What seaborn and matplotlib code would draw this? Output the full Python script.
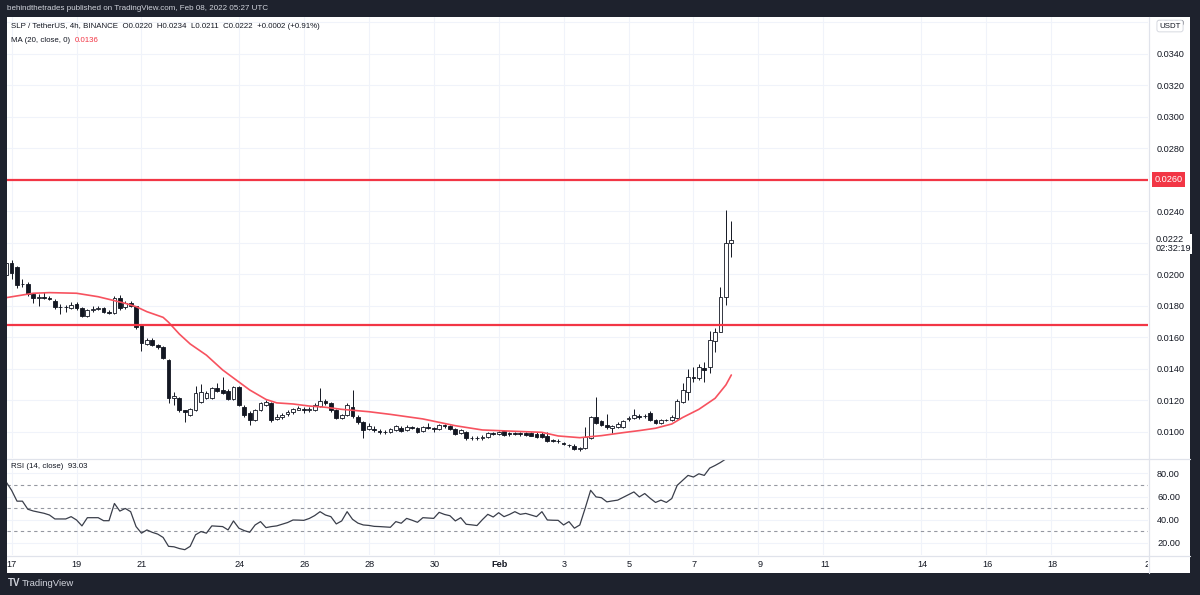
import numpy as np
import pandas as pd
import seaborn as sns
import matplotlib.pyplot as plt
from matplotlib.lines import Line2D
from matplotlib.patches import Rectangle
from matplotlib.ticker import FuncFormatter

# --- DATOS: velas 4h SLP/USDT, primera vela 2022-01-16 20:00 (precios en 1e-4 USDT) ---
FIRST_CANDLE = pd.Timestamp('2022-01-16 20:00')

opens = [
    199.5, 207.0, 204.4, 193.5, 194.0, 187.4, 185.0, 185.5, 185.0, 182.8,
    179.0, 179.2, 178.8, 181.0, 178.5, 173.5, 177.5, 178.0, 178.5, 176.0,
    175.5, 185.0, 179.0, 181.5, 179.5, 167.8, 155.8, 158.2, 155.1, 153.8,
    145.5, 121.4, 121.4, 113.5, 110.6, 113.8, 118.9, 121.4, 121.4, 127.7,
    126.5, 125.8, 120.8, 128.4, 115.7, 111.9, 107.4, 113.8, 117.0, 118.2,
    108.0, 109.3, 111.0, 112.5, 114.0, 114.5, 113.8, 113.8, 116.3, 119.5,
    118.2, 113.8, 108.7, 110.6, 115.7, 109.3, 106.2, 101.5, 102.0, 100.5,
    99.8, 99.8, 101.1, 102.4, 101.1, 102.7, 102.4, 100.4, 102.8, 102.4,
    101.7, 104.3, 103.6, 101.7, 99.2, 99.8, 96.0, 96.3, 96.0, 96.6,
    99.2, 98.5, 100.4, 99.2, 99.0, 99.0, 99.0, 99.0, 98.5, 98.5,
    97.3, 94.7, 94.1, 93.0, 91.8, 90.9, 89.3, 89.6, 96.0, 109.3,
    106.8, 104.3, 102.4, 103.0, 103.0, 108.0, 108.7, 109.8, 109.8, 111.9,
    107.4, 105.5, 107.4, 107.2, 108.7, 118.9, 125.2, 134.7, 134.1, 140.4,
    141.1, 157.6, 163.3, 185.5, 220.0]
highs = [
    208.3, 209.0, 205.0, 197.0, 195.0, 188.0, 187.6, 188.5, 186.0, 184.0,
    181.0, 180.5, 182.5, 182.5, 179.0, 178.0, 180.0, 180.0, 179.0, 177.0,
    186.0, 187.0, 183.0, 183.0, 180.0, 168.5, 159.5, 159.5, 155.5, 154.5,
    146.0, 125.0, 122.0, 114.0, 115.0, 129.0, 130.0, 126.0, 128.5, 131.0,
    135.0, 127.0, 129.0, 129.0, 117.0, 113.0, 114.5, 119.0, 120.0, 119.0,
    111.0, 112.0, 114.0, 115.0, 116.5, 115.5, 115.5, 118.0, 127.7, 121.0,
    119.0, 114.5, 111.5, 118.0, 126.5, 110.5, 107.0, 105.5, 103.5, 101.5,
    101.0, 102.5, 104.5, 103.5, 104.0, 103.5, 103.0, 103.5, 105.5, 103.0,
    105.0, 105.0, 104.0, 102.5, 102.0, 100.5, 97.5, 97.5, 98.0, 100.0,
    100.0, 100.5, 101.0, 100.0, 99.8, 99.5, 99.5, 99.5, 100.0, 99.5,
    100.0, 95.5, 95.5, 93.5, 92.5, 92.5, 90.5, 103.0, 110.0, 122.0,
    107.5, 111.0, 104.5, 106.0, 107.5, 110.0, 114.5, 111.0, 111.5, 113.0,
    108.0, 108.0, 108.0, 110.5, 120.5, 131.0, 139.5, 141.0, 143.0, 144.5,
    164.0, 166.0, 192.0, 240.5, 234.0]
lows = [
    197.6, 197.0, 191.0, 192.0, 186.0, 182.0, 180.0, 184.0, 183.5, 178.0,
    175.0, 176.0, 178.0, 177.5, 173.0, 173.0, 176.0, 177.0, 175.5, 174.5,
    175.0, 177.5, 178.0, 179.0, 165.5, 151.0, 155.0, 154.5, 152.5, 146.0,
    118.5, 117.0, 112.5, 106.0, 110.0, 113.0, 118.0, 121.0, 121.0, 125.0,
    124.0, 120.0, 120.0, 116.0, 109.5, 104.3, 106.5, 113.0, 116.5, 106.0,
    107.5, 108.0, 110.0, 111.5, 113.5, 112.0, 112.5, 113.0, 115.5, 117.0,
    112.5, 108.0, 108.0, 110.0, 109.0, 105.0, 96.0, 101.0, 99.5, 98.5,
    98.5, 99.0, 100.5, 99.5, 100.5, 101.5, 99.0, 100.0, 101.5, 100.0,
    101.0, 102.5, 101.0, 98.0, 98.5, 95.0, 95.0, 95.0, 95.0, 96.0,
    98.0, 98.0, 97.5, 97.5, 98.0, 97.5, 97.5, 97.0, 96.0, 96.0,
    93.5, 93.5, 93.0, 91.5, 90.5, 88.3, 87.5, 89.0, 95.5, 105.0,
    103.5, 101.5, 99.0, 102.5, 102.5, 107.0, 108.0, 108.0, 108.5, 106.5,
    105.0, 105.0, 106.5, 106.5, 108.0, 118.0, 120.0, 131.5, 133.0, 131.5,
    137.0, 150.8, 163.0, 180.5, 211.0]
closes = [
    207.1, 200.6, 193.2, 194.0, 187.4, 185.0, 185.5, 185.0, 184.5, 179.0,
    179.2, 179.0, 180.5, 178.5, 173.5, 177.2, 178.0, 178.5, 176.0, 175.5,
    184.9, 178.5, 181.5, 179.8, 166.5, 156.3, 158.2, 155.1, 153.8, 146.8,
    121.4, 122.5, 113.8, 112.5, 114.4, 124.6, 125.2, 124.6, 127.7, 125.8,
    124.6, 120.8, 128.4, 117.0, 110.6, 107.4, 113.8, 118.2, 118.9, 107.4,
    109.3, 110.6, 112.5, 114.4, 115.0, 113.8, 114.2, 117.0, 119.5, 118.2,
    113.8, 108.7, 110.6, 117.0, 110.0, 106.2, 101.1, 103.6, 101.1, 99.8,
    100.0, 101.8, 103.6, 100.4, 103.0, 102.4, 99.8, 103.0, 102.4, 101.7,
    104.3, 103.6, 101.7, 98.5, 101.1, 96.0, 96.3, 96.0, 96.5, 99.2,
    98.5, 99.8, 97.9, 98.5, 98.5, 98.3, 97.9, 97.3, 96.6, 96.6,
    94.1, 94.4, 94.4, 92.2, 91.6, 89.0, 89.9, 96.6, 109.3, 105.5,
    104.3, 103.0, 103.6, 104.9, 106.8, 108.7, 110.6, 109.3, 110.0, 107.4,
    105.5, 107.4, 107.2, 109.3, 119.5, 126.5, 134.7, 134.1, 141.0, 139.2,
    158.2, 163.3, 185.5, 219.8, 222.0]

# MA(20) (índice de vela, valor en 1e-4)
ma_index = [0, 5, 8, 13, 17, 20, 22, 24, 26, 29, 30, 32, 34, 37, 40, 42, 45, 48, 50, 53,
            56, 59, 62, 67, 71, 77, 83, 88, 93, 99, 102, 106, 110, 114, 117, 120, 123,
            125, 128, 131, 133, 134]
ma_values = [185.1, 187.9, 188.3, 187.9, 185.7, 183.2, 181.5, 179.4, 176.2, 172.6, 169.5,
             162.0, 155.7, 148.6, 139.2, 134.1, 126.5, 120.5, 118.3, 117.6, 116.3, 115.5,
             114.2, 112.7, 111.0, 108.1, 103.8, 101.1, 100.4, 99.6, 97.3, 96.2, 97.5,
             99.4, 100.7, 102.2, 104.9, 109.0, 114.2, 121.2, 129.7, 136.0]

rsi_values = [
    72.6, 65.4, 56.0, 56.0, 49.0, 47.5, 46.5, 45.5, 44.0, 40.6,
    40.6, 40.6, 42.6, 39.7, 34.6, 41.7, 41.7, 41.7, 39.1, 39.1,
    54.0, 47.4, 49.7, 46.9, 34.0, 28.3, 31.1, 29.0, 27.5, 24.6,
    16.9, 16.5, 15.0, 14.0, 16.9, 26.9, 29.7, 28.3, 34.6, 34.3,
    34.0, 31.1, 38.9, 32.6, 30.5, 29.1, 35.4, 38.3, 33.1, 34.0,
    34.6, 36.0, 37.5, 39.7, 39.6, 39.4, 41.0, 43.5, 46.9, 44.0,
    42.6, 36.3, 38.9, 46.9, 40.3, 37.0, 35.4, 35.0, 34.2, 34.0,
    33.7, 33.4, 38.3, 36.9, 41.1, 39.5, 37.7, 41.7, 41.4, 41.1,
    46.3, 44.5, 43.4, 38.9, 41.7, 36.0, 35.5, 34.9, 40.0, 44.6,
    42.3, 46.0, 42.6, 44.5, 46.9, 44.6, 45.4, 44.0, 42.6, 46.9,
    39.7, 39.5, 39.4, 35.4, 38.3, 32.6, 35.4, 50.0, 65.4, 59.7,
    59.0, 55.4, 56.2, 56.9, 59.3, 61.7, 64.0, 59.7, 62.6, 58.5,
    54.9, 56.9, 54.9, 58.3, 69.7, 74.0, 78.3, 76.9, 79.7, 78.3,
    84.6, 86.9, 89.5, 92.6, 93.03]

tick_dates = ['2022-01-17', '2022-01-19', '2022-01-21', '2022-01-24', '2022-01-26',
              '2022-01-28', '2022-01-30', '2022-02-01', '2022-02-03', '2022-02-05',
              '2022-02-07', '2022-02-09', '2022-02-11', '2022-02-14', '2022-02-16',
              '2022-02-18', '2022-02-21']
tick_labels = ['17', '19', '21', '24', '26', '28', '30', 'Feb', '3', '5', '7', '9',
               '11', '14', '16', '18', '21']
price_ticks = [0.0100, 0.0120, 0.0140, 0.0160, 0.0180, 0.0200, 0.0220, 0.0240,
               0.0260, 0.0280, 0.0300, 0.0320, 0.0340, 0.0360]
covered_ticks = [0.0220, 0.0260]   # tapadas por las etiquetas de precio
rsi_ticks = [20, 40, 60, 80]
rsi_bands = [30, 50, 70]
level_lines = [0.0260, 0.0168]

# --- ESTILO ---
W, H = 1200, 595
BG_DARK = '#1e222d'
TXT = '#131722'
GRID = '#f0f3fa'
SEP = '#e0e3eb'
RED = '#f23645'
MA_RED = '#f7525f'
FS = 6.6
FS_LEG = 5.7

sns.set_theme(style='white')
plt.rcParams['font.family'] = ['Liberation Sans', 'DejaVu Sans']


def fx(px):
    return px / W


def fy(py):
    return 1 - py / H


def price_fmt(v, p):
    if any(abs(v - c) < 1e-7 for c in covered_ticks):
        return ''
    return f'{v:.4f}'


df = pd.DataFrame({'open': opens, 'high': highs, 'low': lows, 'close': closes}) / 1e4
df['idx'] = np.arange(len(df))
ma = pd.DataFrame({'idx': ma_index, 'ma': np.array(ma_values) / 1e4})
rsi = pd.DataFrame({'idx': np.arange(len(rsi_values)), 'rsi': rsi_values})
tick_pos = [(pd.Timestamp(d) - FIRST_CANDLE) / pd.Timedelta(hours=4) for d in tick_dates]

XMIN, XMAX = 0.15, 210.65

fig = plt.figure(figsize=(W / 100, H / 100), dpi=100, facecolor=BG_DARK)
fig.add_artist(Rectangle((fx(7), fy(573)), fx(1190) - fx(7), fy(17) - fy(573),
                         transform=fig.transFigure, fc='white', ec='none', zorder=-1))

ax = fig.add_axes([fx(7), fy(458), fx(1148) - fx(7), fy(17) - fy(458)])
ax_r = fig.add_axes([fx(7), fy(555), fx(1148) - fx(7), fy(459) - fy(555)])
ax_t = fig.add_axes([fx(7), fy(573), fx(1148) - fx(7), fy(556) - fy(573)])

# --- Panel de precio ---
ax.vlines(df['idx'], df['low'], df['high'], color=TXT, lw=0.7, zorder=2)
up = df['close'] >= df['open']
body_bottom = df[['open', 'close']].min(axis=1)
body_h = (df['close'] - df['open']).abs().clip(lower=0.00002)
ax.bar(df['idx'], body_h, bottom=body_bottom, width=0.7,
       color=np.where(up, 'white', TXT), edgecolor=TXT, linewidth=0.6, zorder=3)
sns.lineplot(data=ma, x='idx', y='ma', ax=ax, color=MA_RED, lw=1.2, zorder=4)
for lvl in level_lines:
    ax.axhline(lvl, color=RED, lw=1.6, zorder=5)

ax.set_xlim(XMIN, XMAX)
ax.set_ylim(0.00833, 0.03633)
ax.set_xticks(tick_pos)
ax.set_yticks(price_ticks)
ax.yaxis.tick_right()
ax.yaxis.set_major_formatter(FuncFormatter(price_fmt))
ax.tick_params(axis='x', length=0, labelbottom=False)
ax.tick_params(axis='y', length=0, pad=6.5, labelsize=FS, colors=TXT)
ax.grid(True, color=GRID, lw=0.8)
ax.set_xlabel('')
ax.set_ylabel('')
for s in ax.spines.values():
    s.set_visible(False)

# etiqueta roja del nivel y precio actual
ax.annotate('0.0260', xy=(1, 0.0260), xycoords=('axes fraction', 'data'),
            xytext=(4.5, 0), textcoords='offset points', ha='left', va='center',
            fontsize=FS, color='white',
            bbox=dict(boxstyle='square,pad=0.3', fc=RED, ec='none'), annotation_clip=False)
ax.annotate('0.0222\n02:32:19', xy=(1, closes[-1] / 1e4), xycoords=('axes fraction', 'data'),
            xytext=(5.5, -3.3), textcoords='offset points', ha='left', va='center',
            fontsize=FS, color=TXT, linespacing=1.1,
            bbox=dict(boxstyle='square,pad=0.1', fc='white', ec='none'), annotation_clip=False)

# --- Panel RSI ---
sns.lineplot(data=rsi, x='idx', y='rsi', ax=ax_r, color='#3a3e4a', lw=0.9, zorder=3)
for b in rsi_bands:
    ax_r.axhline(b, color='#9598a1', lw=0.8, ls=(0, (3, 3)), zorder=2)
ax_r.set_xlim(XMIN, XMAX)
ax_r.set_ylim(9.4, 92.5)
ax_r.set_xticks(tick_pos)
ax_r.set_yticks(rsi_ticks)
ax_r.yaxis.tick_right()
ax_r.yaxis.set_major_formatter(FuncFormatter(lambda v, p: f'{v:.2f}'))
ax_r.tick_params(axis='x', length=0, labelbottom=False)
ax_r.tick_params(axis='y', length=0, pad=6.5, labelsize=FS, colors=TXT)
ax_r.grid(True, color=GRID, lw=0.8)
ax_r.set_xlabel('')
ax_r.set_ylabel('')
for s in ax_r.spines.values():
    s.set_visible(False)

# --- Eje de tiempo ---
ax_t.set_xlim(XMIN, XMAX)
ax_t.set_ylim(0, 1)
ax_t.axis('off')
for pos, lab in zip(tick_pos, tick_labels):
    ax_t.text(pos, 0.5, lab, ha='center', va='center', fontsize=FS, color=TXT,
              fontweight='bold' if lab == 'Feb' else 'normal', clip_on=True)

# --- Separadores ---
fig.add_artist(Line2D([fx(1148.5)] * 2, [fy(17), fy(573)], color=SEP, lw=0.9))
fig.add_artist(Line2D([fx(7), fx(1190)], [fy(458.5)] * 2, color=SEP, lw=0.9))
fig.add_artist(Line2D([fx(7), fx(1190)], [fy(555.5)] * 2, color=SEP, lw=0.9))

# --- Textos ---
fig.text(fx(7), fy(9), 'behindthetrades published on TradingView.com, Feb 08, 2022 05:27 UTC',
         fontsize=5.8, color='#d1d4dc', va='center', ha='left')
fig.text(fx(11), fy(27), 'SLP / TetherUS, 4h, BINANCE  O0.0220  H0.0234  L0.0211  C0.0222  '
         '+0.0002 (+0.91%)', fontsize=FS_LEG, color=TXT, va='center', ha='left')
ma_lab = fig.text(fx(11), fy(40), 'MA (20, close, 0)', fontsize=FS_LEG, color=TXT,
                  va='center', ha='left')
ax.annotate('0.0136', xy=(1, 0.5), xycoords=ma_lab, xytext=(3, 0),
            textcoords='offset points', fontsize=FS_LEG, color=RED, va='center', ha='left',
            annotation_clip=False)
fig.text(fx(11), fy(467), 'RSI (14, close)  93.03', fontsize=FS_LEG, color=TXT,
         va='center', ha='left')
fig.text(fx(1170), fy(26), 'USDT', fontsize=FS_LEG, color=TXT, va='center', ha='center',
         bbox=dict(boxstyle='round,pad=0.3,rounding_size=0.3', fc='white', ec='#d1d4dc', lw=0.6))
fig.text(fx(8), fy(583), 'TV', fontsize=7, color='#d1d4dc', va='center', ha='left',
         fontweight='bold')
fig.text(fx(22), fy(583), 'TradingView', fontsize=6.8, color='#d1d4dc', va='center', ha='left')

fig.savefig('out.png', dpi=100, facecolor=BG_DARK)
